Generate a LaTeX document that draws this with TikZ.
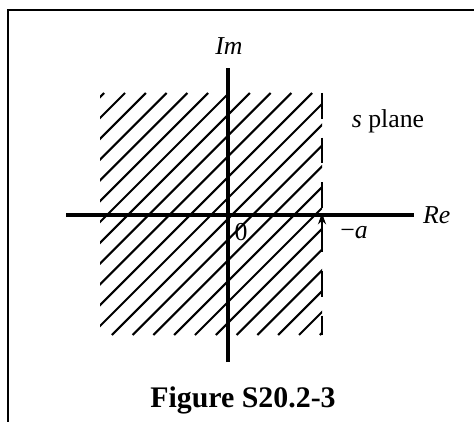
\documentclass[tikz,border=0pt]{standalone}
\usepackage{fontspec}
\setmainfont{Liberation Serif}
\usepackage{tikz}
\usetikzlibrary{arrows.meta,positioning}
\tikzset{
  axis/.style     = {line width=2.6pt},
  hatch/.style    = {line width=1.8pt},
  edgedash/.style = {line width=1.8pt, dash pattern=on 22 off 16},
  frame/.style    = {line width=1.6pt},
  lbl/.style      = {inner sep=0pt, font=\fontsize{22}{24}\selectfont},
  sig/.style      = {-{Stealth[length=3.4mm,width=2.4mm]}, line width=1.8pt},
}

\begin{document}
\begin{tikzpicture}[x=0.03cm,y=-0.03cm]
\useasboundingbox (0,0) rectangle (474,422);
\draw[frame] (474,10) -- (8,10) -- (8,422);
% shaded half plane Re{s} < -a
\begin{scope}
\clip (100,93) rectangle (322,335);
\foreach \k in {0,...,23}{
  \pgfmathsetmacro\c{197.2+20.8*\k}
  \draw[hatch] (\c-335,335) -- (\c-93,93);
}
\end{scope}
\coordinate (bt) at (322,93);
\coordinate (bb) at (322,335);
\draw[edgedash] (bt) -- (bb);
% axes
\coordinate (ximin) at (66,215);
\coordinate (ximax) at (414,215);
\coordinate (yimin) at (228,362);
\coordinate (yimax) at (228,68);
\draw[axis] (ximin) -- (ximax);
\draw[axis] (yimin) -- (yimax);
\node[lbl] (im) at (229,46) {\textit{Im}};
\node[lbl,right=9 of ximax] (re) {\textit{Re}};
\node[lbl] (orig) at (241,232) {0};
\node[lbl] (spl) at (388,121) {\textit{s} plane};
\node[lbl] (ma) at (354,233) {−\textit{a}};
\coordinate (pole) at (322,213);
\draw[sig] (322,234) -- (pole);
\node[inner sep=0pt,font=\fontsize{25.5}{27}\selectfont\bfseries] (cap) at (243,400) {Figure S20.2-3};
\end{tikzpicture}
\end{document}
